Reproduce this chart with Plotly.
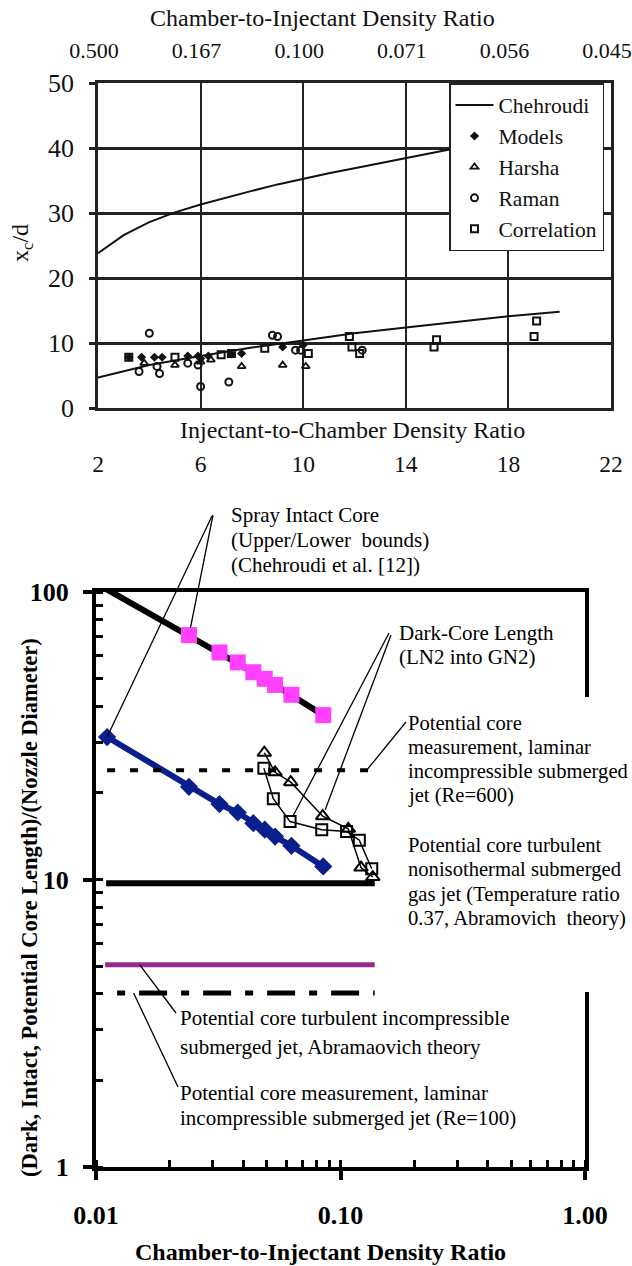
import math
import plotly.graph_objects as go

W, H = 632, 1266
SERIF = "Liberation Serif, Times New Roman, serif"
INK = "#111111"

# ---------------- Top chart data (x_c/d vs injectant-to-chamber density ratio) ----------------
TOP_X_TICKS = [2, 6, 10, 14, 18, 22]
TOP_Y_TICKS = [0, 10, 20, 30, 40, 50]

CHEHROUDI_X = [2, 3, 4, 5, 6, 7, 8, 9, 10, 11, 12, 13, 14, 15, 16, 17]
CHEHROUDI_Y = [23.8, 26.6, 28.6, 30.1, 31.3, 32.4, 33.4, 34.4, 35.3, 36.1, 36.9, 37.7, 38.5, 39.2, 40.0, 40.6]

CORR_LINE_X = [2, 4, 6, 8, 10, 12, 14, 16, 18, 20]
CORR_LINE_Y = [4.7, 6.6, 8.0, 9.3, 10.4, 11.5, 12.4, 13.3, 14.1, 14.8]

MODELS_X = [3.2, 3.7, 4.2, 4.5, 5.5, 5.9, 6.3, 9.2, 10.0, 7.6, 6.0, 7.2]
MODELS_Y = [7.8, 7.8, 7.8, 7.8, 8.0, 8.0, 8.0, 9.4, 9.7, 8.4, 7.6, 8.3]
HARSHA_X = [3.8, 5.0, 6.0, 7.6, 9.2, 10.1, 6.4]
HARSHA_Y = [6.9, 6.6, 7.1, 6.4, 6.6, 6.4, 7.4]
RAMAN_X = [4.0, 8.8, 9.0, 9.7, 9.9, 12.3, 6.0, 7.1, 4.4, 3.6, 4.3, 5.5, 5.9]
RAMAN_Y = [11.5, 11.2, 11.0, 8.9, 8.9, 8.9, 3.3, 4.0, 5.3, 5.6, 6.4, 6.9, 6.6]
CORR_X = [5.0, 6.8, 8.5, 10.2, 11.8, 11.9, 12.2, 15.2, 15.1, 19.1, 19.0, 7.2, 3.2]
CORR_Y = [7.8, 8.2, 9.2, 8.4, 11.0, 9.4, 8.4, 10.5, 9.4, 13.4, 11.0, 8.4, 7.8]

# ---------------- Bottom chart data (log-log) ----------------
START_X = 0.0111
UPPER_START_Y = 102.0
LOWER_START_Y = 31.3
DENS_X = [0.024, 0.032, 0.038, 0.044, 0.049, 0.054, 0.063, 0.085]
UPPER_Y = [70.8, 61.6, 56.9, 52.6, 49.9, 47.5, 43.9, 37.3]
LOWER_Y = [21.0, 18.3, 17.1, 15.7, 14.9, 14.1, 13.1, 11.1]

TRI_X = [0.0488, 0.0540, 0.0626, 0.0846, 0.1076, 0.1213, 0.1355]
TRI_Y = [27.6, 23.6, 21.8, 16.6, 15.0, 11.0, 10.2]
SQ_X = [0.0486, 0.0531, 0.0622, 0.0838, 0.1059, 0.1194, 0.1342]
SQ_Y = [24.4, 19.1, 15.9, 14.9, 14.7, 13.7, 10.9]

REF_LINE_END_X = 0.138
RE600_X0, RE600_Y = 0.0111, 24.0
NONISO_X0, NONISO_Y = 0.0110, 9.7
INCOMP_X0, INCOMP_Y = 0.0109, 5.05
RE100_X0, RE100_Y = 0.0122, 4.03

# ---------------- layout geometry (pixels) ----------------
L1, R1, T1, B1 = 98, 611, 83, 408
L2, R2, T2, B2 = 96, 585, 592, 1167


def px(xp):
    return xp / W


def py(yp):
    return 1 - yp / H


def bx(xd):
    return L2 + (math.log10(xd) + 2) / 2 * (R2 - L2)


def by(yd):
    return B2 - math.log10(yd) / 2 * (B2 - T2)


fig = go.Figure()

# ----- top chart traces -----
fig.add_trace(go.Scatter(x=CHEHROUDI_X, y=CHEHROUDI_Y, mode="lines", name="Chehroudi",
                         line=dict(color=INK, width=2), xaxis="x", yaxis="y"))
fig.add_trace(go.Scatter(x=CORR_LINE_X, y=CORR_LINE_Y, mode="lines", showlegend=False,
                         line=dict(color=INK, width=2), xaxis="x", yaxis="y"))
fig.add_trace(go.Scatter(x=MODELS_X, y=MODELS_Y, mode="markers", name="Models",
                         marker=dict(symbol="diamond", size=7, color=INK), xaxis="x", yaxis="y"))
fig.add_trace(go.Scatter(x=HARSHA_X, y=HARSHA_Y, mode="markers", name="Harsha",
                         marker=dict(symbol="triangle-up-open", size=7, color=INK, line=dict(width=1.8)),
                         xaxis="x", yaxis="y"))
fig.add_trace(go.Scatter(x=RAMAN_X, y=RAMAN_Y, mode="markers", name="Raman",
                         marker=dict(symbol="circle-open", size=7, color=INK, line=dict(width=2)),
                         xaxis="x", yaxis="y"))
fig.add_trace(go.Scatter(x=CORR_X, y=CORR_Y, mode="markers", name="Correlation",
                         marker=dict(symbol="square-open", size=7, color=INK, line=dict(width=2)),
                         xaxis="x", yaxis="y"))
# carrier for the top (chamber-to-injectant) axis
fig.add_trace(go.Scatter(x=TOP_X_TICKS, y=[TOP_Y_TICKS[0]] * len(TOP_X_TICKS), mode="markers",
                         marker=dict(opacity=0), showlegend=False, hoverinfo="skip",
                         xaxis="x3", yaxis="y"))

# ----- bottom chart traces -----
fig.add_trace(go.Scatter(x=[START_X] + DENS_X, y=[UPPER_START_Y] + UPPER_Y, mode="lines",
                         line=dict(color="black", width=6), showlegend=False, xaxis="x2", yaxis="y2"))
fig.add_trace(go.Scatter(x=DENS_X, y=UPPER_Y, mode="markers", showlegend=False,
                         marker=dict(symbol="square", size=16, color="#ff40ff"), xaxis="x2", yaxis="y2"))
fig.add_trace(go.Scatter(x=[START_X] + DENS_X, y=[LOWER_START_Y] + LOWER_Y, mode="lines+markers",
                         line=dict(color="#0a1e8c", width=6), showlegend=False,
                         marker=dict(symbol="diamond", size=14, color="#0a1e8c"), xaxis="x2", yaxis="y2"))

# horizontal reference lines
fig.add_trace(go.Scatter(x=[RE600_X0, REF_LINE_END_X], y=[RE600_Y, RE600_Y], mode="lines", showlegend=False,
                         line=dict(color="black", width=4, dash="8px,15px"), xaxis="x2", yaxis="y2"))
fig.add_trace(go.Scatter(x=[NONISO_X0, REF_LINE_END_X], y=[NONISO_Y, NONISO_Y], mode="lines", showlegend=False,
                         line=dict(color="black", width=6), xaxis="x2", yaxis="y2"))
fig.add_trace(go.Scatter(x=[INCOMP_X0, REF_LINE_END_X], y=[INCOMP_Y, INCOMP_Y], mode="lines", showlegend=False,
                         line=dict(color="#962a8f", width=5), xaxis="x2", yaxis="y2"))
fig.add_trace(go.Scatter(x=[RE100_X0, REF_LINE_END_X], y=[RE100_Y, RE100_Y], mode="lines", showlegend=False,
                         line=dict(color="black", width=5, dash="8px,14px,28px,14px"), xaxis="x2", yaxis="y2"))

# dark-core length
fig.add_trace(go.Scatter(x=TRI_X, y=TRI_Y, mode="lines+markers", showlegend=False,
                         line=dict(color="black", width=1.5),
                         marker=dict(symbol="triangle-up-open", size=12, color="black", line=dict(width=2)),
                         xaxis="x2", yaxis="y2"))
fig.add_trace(go.Scatter(x=SQ_X, y=SQ_Y, mode="lines+markers", showlegend=False,
                         line=dict(color="black", width=1.5),
                         marker=dict(symbol="square-open", size=11, color="black", line=dict(width=2)),
                         xaxis="x2", yaxis="y2"))

annotations = []


def text(t, xp, yp, size=21, bold=False, anchor="left", angle=0, color="black"):
    annotations.append(dict(text=t, x=px(xp), y=py(yp), xref="paper", yref="paper",
                            xanchor=anchor, yanchor="middle", showarrow=False, textangle=angle,
                            font=dict(family=SERIF, size=size, color=color,
                                      weight="bold" if bold else "normal")))


# top chart titles
text("Chamber-to-Injectant Density Ratio", 323, 18, size=24, anchor="center", color=INK)
text("Injectant-to-Chamber Density Ratio", 352, 430, size=24, anchor="center", color=INK)
text("x<sub>c</sub>/d", 22, 243, size=24, anchor="center", angle=-90, color=INK)

# bottom chart titles
text("Chamber-to-Injectant Density Ratio", 320, 1252, size=24, bold=True, anchor="center")
text("(Dark, Intact, Potential Core Length)/(Nozzle Diameter)", 29, 908, size=22.5, bold=True,
     anchor="center", angle=-90)

# bottom chart labels (one annotation per line for the tighter line spacing)
LABEL_BLOCKS = [
    (229, [515, 540, 565], ["Spray Intact Core", "(Upper/Lower\u00a0 bounds)", "(Chehroudi et al. [12])"], 21),
    (397, [633, 657], ["Dark-Core Length", "(LN2 into GN2)"], 21),
    (406, [723, 747, 771, 795], ["Potential core", "measurement, laminar", "incompressible submerged",
                                 "jet (Re=600)"], 20.6),
    (406, [845, 869, 894, 918], ["Potential core turbulent", "nonisothermal submerged",
                                 "gas jet (Temperature ratio", "0.37, Abramovich\u00a0 theory)"], 20.6),
    (178, [1018, 1047], ["Potential core turbulent incompressible", "submerged jet, Abramaovich theory"], 21),
    (178, [1093, 1118], ["Potential core measurement, laminar", "incompressible submerged jet (Re=100)"], 21),
]
for xp, ys, lines, fs in LABEL_BLOCKS:
    for yp, ln in zip(ys, lines):
        text(ln, xp, yp, size=fs)

# leader lines: head on the data (converted through the axis geometry), tail at the label
LEADERS = [
    (START_X, LOWER_START_Y, 212, 516, 0),
    (DENS_X[0], UPPER_Y[0], 213, 515, 8),
    (SQ_X[2], SQ_Y[2], 389, 633, 6),
    (TRI_X[3], TRI_Y[3], 391, 635, 7),
    (0.128, RE600_Y, 406, 722, 0),
    (0.0151, INCOMP_Y, 176, 1013, 0),
    (0.01425, RE100_Y, 178, 1087, 0),
]
shapes = []
for hx, hy, tx, ty, so in LEADERS:
    hxp, hyp = bx(hx), by(hy)
    dx, dy = tx - hxp, ty - hyp
    d = math.hypot(dx, dy)
    hxp += dx / d * so
    hyp += dy / d * so
    shapes.append(dict(type="line", xref="paper", yref="paper", x0=px(tx), y0=py(ty), x1=px(hxp), y1=py(hyp),
                       line=dict(color="black", width=1.3), layer="above"))
# white box behind the right-hand labels (hides the frame there, as in the original)
shapes.append(dict(type="rect", xref="paper", yref="paper", x0=px(572), x1=px(600), y0=py(992), y1=py(697),
                   fillcolor="white", line=dict(width=0), layer="above"))

tick_top = dict(family=SERIF, size=23.5, color=INK)
tick_bold = dict(family=SERIF, size=26, color="black", weight="bold")

fig.update_layout(
    template="none",
    width=W, height=H, autosize=False,
    margin=dict(l=0, r=0, t=0, b=0, pad=0),
    paper_bgcolor="white", plot_bgcolor="white",
    font=dict(family=SERIF, color=INK),
    annotations=annotations,
    shapes=shapes,
    showlegend=True,
    legend=dict(x=px(449), y=py(T1), xanchor="left", yanchor="top", bgcolor="white",
                bordercolor="#222", borderwidth=1.5, font=dict(family=SERIF, size=21.5, color=INK),
                itemwidth=38, tracegroupgap=0),
    xaxis=dict(domain=[px(L1), px(R1)], range=[2, 22], anchor="y", tickmode="array", tickvals=TOP_X_TICKS,
               showgrid=True, gridcolor="#222", gridwidth=1.5, showline=True, linecolor="#222", linewidth=2.5,
               mirror=True, ticks="", zeroline=False, tickfont=tick_top, ticklabelstandoff=33,
               automargin=False, ticklabeloverflow="allow"),
    xaxis3=dict(overlaying="x", side="top", anchor="y", range=[2, 22], tickmode="array", tickvals=TOP_X_TICKS,
                ticktext=[f"{1 / v:.3f}" for v in TOP_X_TICKS], showgrid=False, showline=False, ticks="",
                zeroline=False, tickfont=dict(family=SERIF, size=22, color=INK), ticklabelstandoff=20,
                ticklabelshift=-4, automargin=False, ticklabeloverflow="allow"),
    yaxis=dict(domain=[py(B1), py(T1)], range=[0, 50], anchor="x", tickmode="array", tickvals=TOP_Y_TICKS,
               showgrid=True, gridcolor="#222", gridwidth=2.5, showline=True, linecolor="#222", linewidth=2.5,
               mirror=True, ticks="outside", ticklen=6, tickwidth=2.5, tickcolor="#222", zeroline=False,
               tickfont=dict(family=SERIF, size=26, color=INK), ticklabelstandoff=10, automargin=False),
    xaxis2=dict(domain=[px(L2), px(R2)], type="log", range=[-2, 0], anchor="y2", dtick=1, tickformat=".2f",
                ticks="outside", ticklen=9, tickwidth=4, tickcolor="black", showline=True, linewidth=4,
                linecolor="black", mirror=True, showgrid=False, zeroline=False, tickfont=tick_bold,
                ticklabelstandoff=13, automargin=False,
                minor=dict(ticks="inside", ticklen=7, tickwidth=3, tickcolor="black", dtick="D1",
                           showgrid=False)),
    yaxis2=dict(domain=[py(B2), py(T2)], type="log", range=[0, 2], anchor="x2", dtick=1, tickformat="d",
                ticks="outside", ticklen=9, tickwidth=4, tickcolor="black", showline=True, linewidth=4,
                linecolor="black", mirror=True, showgrid=False, zeroline=False, tickfont=tick_bold,
                ticklabelstandoff=9, automargin=False,
                minor=dict(ticks="inside", ticklen=7, tickwidth=3, tickcolor="black", dtick="D1",
                           showgrid=False)),
)

# the page's default 8px body margin would shift the fixed-size figure; remove it
fig.write_html("out.html", config={"displayModeBar": False},
               post_script="document.body.style.margin='0px';")
